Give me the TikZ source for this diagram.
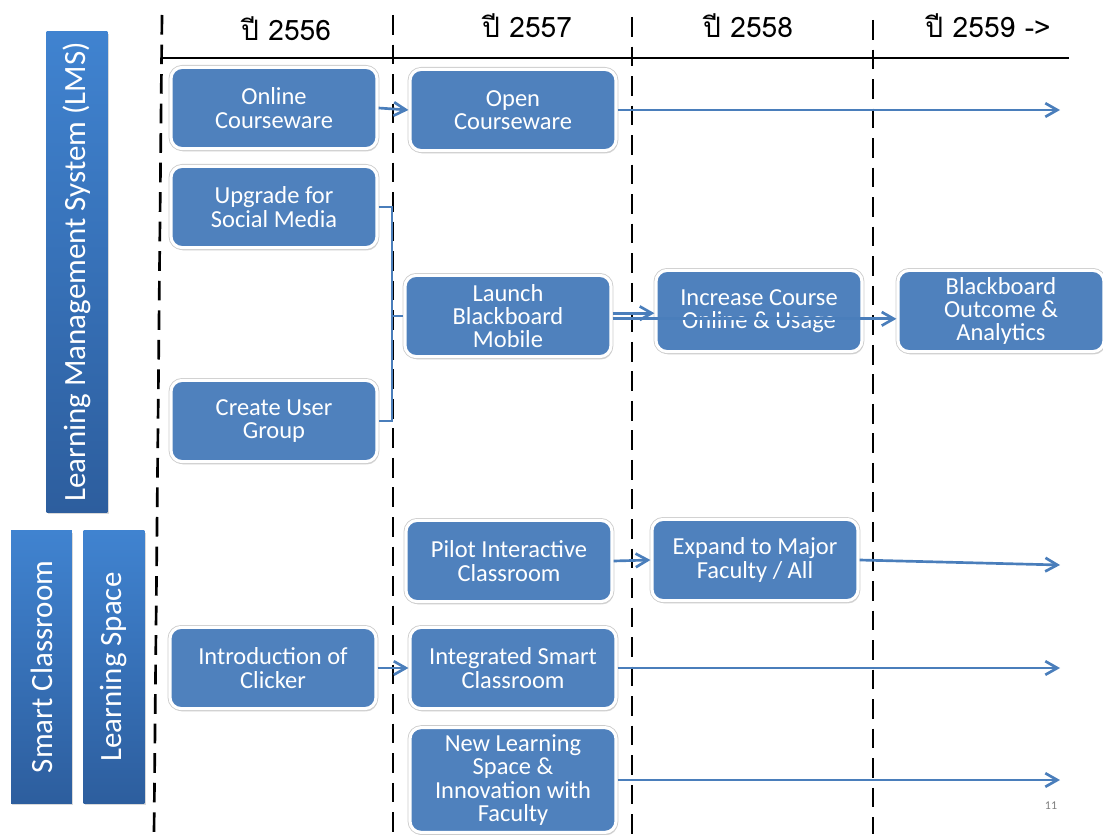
\documentclass[tikz,border=0pt]{standalone}
\usepackage{fontspec}
\setmainfont{Carlito}
\newfontfamily\thaifont[Script=Thai]{Loma}
\usetikzlibrary{arrows.meta, positioning, shadows, calc}

\definecolor{boxblue}{HTML}{4F81BD}
\definecolor{barlight}{HTML}{4083D0}
\definecolor{bardark}{HTML}{2D5E9E}
\definecolor{arrowblue}{HTML}{4A7EBB}

\tikzset{
  stage/.style={rectangle, rounded corners=8pt, fill=boxblue, draw=white, line width=2.2pt,
    minimum width=5.15cm, minimum height=2.03cm, inner sep=0pt, align=center,
    text=white, font=\fontsize{17.4}{16.5}\selectfont,
    drop shadow={shadow xshift=1pt, shadow yshift=-2pt, opacity=0.3},
    preaction={draw=gray!40, line width=3.4pt}},
  track/.style={rectangle, top color=barlight, bottom color=bardark, minimum width=1.52cm,
    inner sep=0pt, text=white, font=\fontsize{22}{24}\selectfont,
    drop shadow={shadow xshift=1pt, shadow yshift=-1.5pt, opacity=0.3}},
  year/.style={font=\thaifont\fontsize{20}{24}\selectfont, inner sep=0pt},
  yearline/.style={black, line width=1.9pt, dash pattern=on 14pt off 7pt},
  flow/.style={arrowblue, line width=1.9pt, -{Straight Barb[length=3mm,width=3.4mm]}},
  link/.style={arrowblue, line width=1.5pt}
}

\begin{document}
\begin{tikzpicture}[x=0.025cm, y=-0.025cm]
\useasboundingbox (0,0) rectangle (1103,834);

% Year columns
\draw[yearline] (162,15) -- (154,834);
\foreach \x/\y in {393/15, 632/17, 873/20}
    \draw[yearline] (\x,\y) -- (\x,834);
\draw[line width=1.4pt] (162,58) -- (1069,58);

\foreach \x/\y/\yr in {286/29/2556, 527/26/2557, 748/26/2558}
    \node[year] (y\yr) at (\x,\y) {ปี \yr};
\node[year] (y2559) at (988,26) {ปี 2559 ->};

% Side bars
\node[track, minimum height=12cm] (lms) at (77,272) {\rotatebox{90}{Learning Management System (LMS)}};
\node[track, minimum height=6.8cm] (smart) at (41.5,667) {\rotatebox{90}{Smart Classroom}};
\node[track, minimum height=6.8cm] (space) at (114,667) {\rotatebox{90}{Learning Space}};

% LMS
\node[stage] (online) at (274,108) {Online\\Courseware};
\node[stage] (open) at (513,110) {Open\\Courseware};
\node[stage] (upgrade) at (274,207) {Upgrade for\\Social Media};
\node[stage] (usergroup) at (274,421) {Create User\\Group};
\node[stage] (launch) at (508,316) {Launch\\Blackboard\\Mobile};
\node[stage] (increase) at (759,311) {Increase Course\\Online \& Usage};
\node[stage] (outcome) at (1001,311) {Blackboard\\Outcome \&\\Analytics};

% Smart classroom / learning space
\node[stage] (pilot) at (509,561) {Pilot Interactive\\Classroom};
\node[stage] (expand) at (755,560) {Expand to Major\\Faculty / All};
\node[stage] (clicker) at (273,668) {Introduction of\\Clicker};
\node[stage] (integrated) at (513,668) {Integrated Smart\\Classroom};
\node[stage, minimum height=2.62cm] (newspace) at (513,780) {New Learning\\Space \&\\Innovation with\\Faculty};

% Connectors
\coordinate (tip) at (1060,0);
\coordinate (tipexp) at (1060,565);
\coordinate (fork) at (392,316);

\draw[flow] (online.east) -- (open.west);
\draw[flow] (open.east) -- (open.east -| tip);
\draw[link] (upgrade.east) -| (fork) |- (usergroup.east);
\draw[link] (fork) -- (launch.west);
\draw[flow] ([yshift=2pt]launch.east) -- ([yshift=2pt]launch.east -| increase.west);
\draw[flow] ([yshift=-2pt]launch.east) -- ([yshift=-2pt]launch.east -| outcome.west);
\draw[flow] (pilot.east) -- (expand.west);
\draw[flow] (expand.east) -- (tipexp);
\draw[flow] (clicker.east) -- (integrated.west);
\draw[flow] (integrated.east) -- (integrated.east -| tip);
\draw[flow] (newspace.east) -- (newspace.east -| tip);

\node[text=gray, font=\fontsize{8.5}{10}\selectfont] (pageno) at (1051,806) {11};
\end{tikzpicture}
\end{document}
